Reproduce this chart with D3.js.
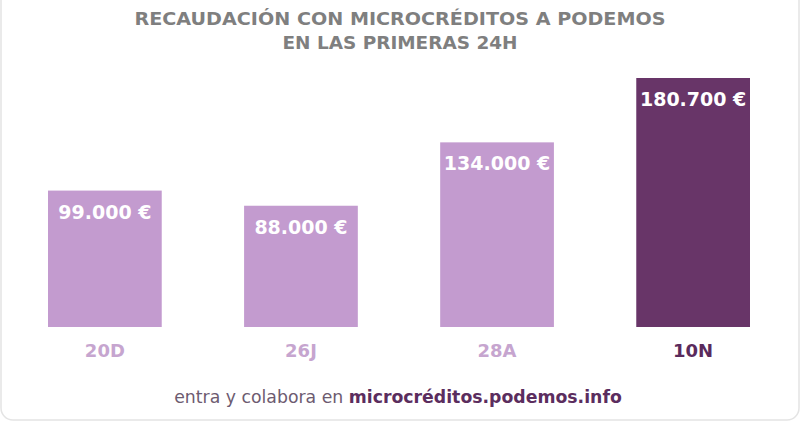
<!DOCTYPE html>
<html>
<head>
<meta charset="utf-8">
<script src="https://cdn.jsdelivr.net/npm/d3@7"></script>
<style>
  html, body { margin: 0; padding: 0; background: #ffffff; }
  svg { display: block; }
</style>
</head>
<body>
<svg id="chart"></svg>
<script>
// datos
const categories = ["20D", "26J", "28A", "10N"];
const values = [99000, 88000, 134000, 180700];
const valueLabels = ["99.000 €", "88.000 €", "134.000 €", "180.700 €"];
const titleLines = ["RECAUDACIÓN CON MICROCRÉDITOS A PODEMOS", "EN LAS PRIMERAS 24H"];
const footerPlain = "entra y colabora en ";
const footerBold = "microcréditos.podemos.info";

const width = 800;
const height = 423;
const baseline = 327;

const svg = d3.select("#chart")
    .attr("width", width)
    .attr("height", height);

// marco
svg.append("rect")
    .attr("x", 1).attr("y", -12)
    .attr("width", width - 2).attr("height", 432)
    .attr("rx", 12)
    .attr("fill", "#ffffff")
    .attr("stroke", "#e4e4e4")
    .attr("stroke-width", 1.5);

// escalas
const x = d3.scaleBand()
    .domain(categories)
    .range([48, 750])
    .paddingInner(0.42)
    .paddingOuter(0);

const y = d3.scaleLinear()
    .domain([0, 180700])
    .range([baseline, 78]);

const lastCat = categories[categories.length - 1];
const barColor = (d) => d === lastCat ? "#683568" : "#c39bcf";
const catColor = (d) => d === lastCat ? "#5a2a5c" : "#c6a5cf";

// título
svg.append("g")
    .selectAll("text")
    .data(titleLines)
    .enter()
    .append("text")
    .attr("x", 400)
    .attr("y", (d, i) => 25 + i * 24)
    .attr("text-anchor", "middle")
    .attr("textLength", (d, i) => i === 0 ? 531 : 235)
    .attr("lengthAdjust", "spacingAndGlyphs")
    .style("font-family", "'DejaVu Sans', sans-serif")
    .style("font-weight", "bold")
    .style("font-size", "18px")
    .style("fill", "#7f7f7f")
    .text(d => d);

// barras
const bars = svg.append("g")
    .selectAll("g")
    .data(categories)
    .enter()
    .append("g");

bars.append("rect")
    .attr("x", d => x(d))
    .attr("width", x.bandwidth())
    .attr("y", (d, i) => y(values[i]))
    .attr("height", (d, i) => baseline - y(values[i]))
    .attr("fill", barColor);

bars.append("text")
    .attr("x", d => x(d) + x.bandwidth() / 2)
    .attr("y", (d, i) => y(values[i]) + 28)
    .attr("text-anchor", "middle")
    .style("font-family", "'DejaVu Sans', sans-serif")
    .style("font-weight", "bold")
    .style("font-size", "19px")
    .style("fill", "#ffffff")
    .text((d, i) => valueLabels[i]);

// eje de categorías
bars.append("text")
    .attr("x", d => x(d) + x.bandwidth() / 2)
    .attr("y", 357)
    .attr("text-anchor", "middle")
    .style("font-family", "'DejaVu Sans', sans-serif")
    .style("font-weight", "bold")
    .style("font-size", "18px")
    .style("fill", catColor)
    .text(d => d);

// pie
const footer = svg.append("text")
    .attr("x", 398)
    .attr("y", 403)
    .attr("text-anchor", "middle")
    .style("font-family", "'DejaVu Sans', sans-serif")
    .style("font-size", "17.3px");

footer.append("tspan")
    .style("fill", "#6d5b70")
    .text(footerPlain);
footer.append("tspan")
    .style("fill", "#5b2d5e")
    .style("font-weight", "bold")
    .text(footerBold);
</script>
</body>
</html>
